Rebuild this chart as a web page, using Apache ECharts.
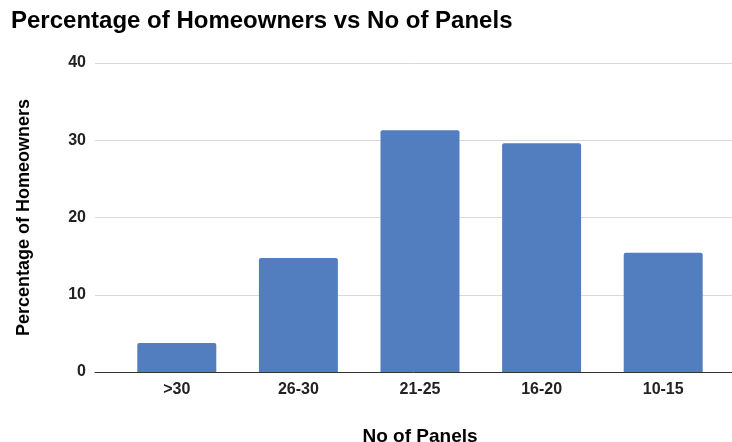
<!DOCTYPE html>
<html>
<head>
<meta charset="utf-8">
<script src="https://cdn.jsdelivr.net/npm/echarts@6/dist/echarts.min.js"></script>
<style>
  html, body { margin: 0; padding: 0; background: #fff; }
  #chart { width: 732px; height: 442px; }
</style>
</head>
<body>
<div id="chart"></div>
<script>
var panelGroups = [">30", "26-30", "21-25", "16-20", "10-15"];
var homeownerPct = [3.75, 14.75, 31.3, 29.6, 15.45];
var yTicks = [0, 10, 20, 30, 40];

var chart = echarts.init(document.getElementById('chart'));
var fontFamily = 'Liberation Sans, Arial, sans-serif';

var option = {
  backgroundColor: '#fff',
  animation: false,
  title: {
    text: 'Percentage of Homeowners vs No of Panels',
    left: 11,
    top: 9,
    padding: 0,
    textStyle: { fontFamily: fontFamily, fontSize: 24, fontWeight: 'bold', color: '#000' }
  },
  grid: [
    // bars
    { left: 116, right: 8, top: 63, bottom: 70, outerBoundsMode: 'none' },
    // gridlines and baseline, a bit wider than the bars
    { left: 95, right: 0, top: 63, bottom: 70, outerBoundsMode: 'none' }
  ],
  xAxis: [
    {
      type: 'category',
      gridIndex: 0,
      data: panelGroups,
      axisLine: { show: false },
      axisTick: { show: false },
      axisLabel: { margin: 10, fontFamily: fontFamily, fontSize: 16, fontWeight: 'bold', color: '#222' },
      name: 'No of Panels',
      nameLocation: 'middle',
      nameGap: 55,
      nameTextStyle: { fontFamily: fontFamily, fontSize: 19, fontWeight: 'bold', color: '#000' }
    },
    {
      type: 'value',
      gridIndex: 1,
      min: 0,
      max: 1,
      axisLine: { show: true, onZero: false, lineStyle: { color: '#333', width: 1 } },
      axisTick: { show: false },
      axisLabel: { show: false },
      splitLine: { show: false }
    }
  ],
  yAxis: [
    {
      type: 'value',
      gridIndex: 0,
      min: yTicks[0],
      max: yTicks[yTicks.length - 1],
      interval: 10,
      show: false
    },
    {
      type: 'value',
      gridIndex: 1,
      min: yTicks[0],
      max: yTicks[yTicks.length - 1],
      interval: 10,
      axisLine: { show: false },
      axisTick: { show: false },
      axisLabel: { margin: 9, fontFamily: fontFamily, fontSize: 16, fontWeight: 'bold', color: '#222' },
      splitLine: { lineStyle: { color: '#d9d9d9', width: 1 } },
      name: 'Percentage of Homeowners',
      nameLocation: 'middle',
      nameGap: 62,
      nameTextStyle: { fontFamily: fontFamily, fontSize: 18, fontWeight: 'bold', color: '#000' }
    }
  ],
  series: [
    {
      type: 'bar',
      xAxisIndex: 0,
      yAxisIndex: 0,
      data: homeownerPct,
      barWidth: 79,
      itemStyle: { color: '#527ec0', borderRadius: [2, 2, 0, 0] }
    }
  ]
};
chart.setOption(option);
</script>
</body>
</html>
